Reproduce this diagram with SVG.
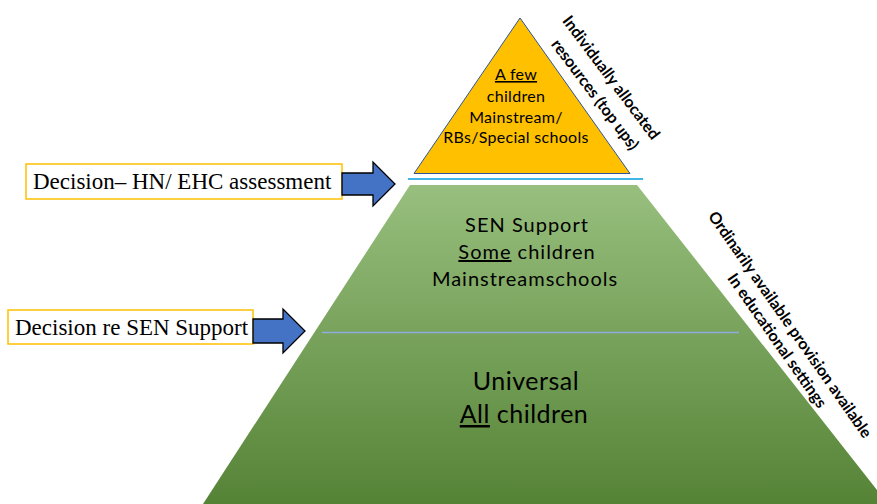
<svg xmlns="http://www.w3.org/2000/svg" width="877" height="504" viewBox="0 0 877 504">
<defs>
<linearGradient id="g" x1="0" y1="185" x2="0" y2="504" gradientUnits="userSpaceOnUse">
<stop offset="0" stop-color="#98bf7e"/>
<stop offset="1" stop-color="#558336"/>
</linearGradient>
<style>
.box{fill:#fff;stroke:#ffc000;stroke-width:1.5}
.arr{fill:#4472c4;stroke:#000;stroke-width:1.3}
.tm{font-family:"Liberation Serif",serif;font-size:23px;fill:#000}
.cb{font-family:Lato,"Liberation Sans",sans-serif;fill:#000;text-anchor:middle}
.tri{font-size:16px;letter-spacing:0.3px}
.mid{font-size:20px;letter-spacing:1px}
.big{font-size:25px;letter-spacing:0.5px}
.rot{font-family:Lato,"Liberation Sans",sans-serif;font-weight:bold;font-size:16px;fill:#000;text-anchor:middle;dominant-baseline:central}
</style>
</defs>
<rect width="877" height="504" fill="#fff"/>
<g id="base">
<polygon points="410,185 637,185 888,504 203,504" fill="url(#g)"/>
<line x1="322" y1="332.5" x2="739" y2="332.5" stroke="#8faadc" stroke-width="1.5"/>
<text class="cb mid" x="527" y="232">SEN Support</text>
<text class="cb mid" x="527" y="259"><tspan text-decoration="underline">Some</tspan> children</text>
<text class="cb mid" x="525" y="286">Mainstreamschools</text>
<text class="cb big" x="526" y="390">Universal</text>
<text class="cb big" x="524" y="423"><tspan text-decoration="underline">All</tspan> children</text>
</g>
<g id="top">
<line x1="408" y1="179" x2="643" y2="179" stroke="#41b6e6" stroke-width="2"/>
<polygon points="520,18 414,173.5 630,173.5" fill="#ffc000" stroke="#2f5597" stroke-width="1"/>
<text class="cb tri" x="516" y="80"><tspan text-decoration="underline">A few</tspan></text>
<text class="cb tri" x="516" y="102">children</text>
<text class="cb tri" x="516" y="123">Mainstream/</text>
<text class="cb tri" x="516" y="143">RBs/Special schools</text>
</g>
<g id="label-top">
<text class="rot" transform="translate(612,77) rotate(53)">Individually allocated</text>
<text class="rot" transform="translate(596,94) rotate(53)">resources (top ups)</text>
</g>
<g id="label-base">
<text class="rot" transform="translate(791,324) rotate(55)" font-size="15.5">Ordinarily available provision available</text>
<text class="rot" transform="translate(778,340) rotate(55)">In educational settings</text>
</g>
<g id="decision1">
<rect class="box" x="26" y="164" width="316" height="35"/>
<text class="tm" x="33" y="189">Decision– HN/ EHC assessment</text>
</g>
<g id="decision2">
<rect class="box" x="8" y="310" width="245" height="34"/>
<text class="tm" x="15" y="335">Decision re SEN Support</text>
</g>
<g id="connectors">
<polygon class="arr" points="342,173 373,173 373,162 395,184 373,206 373,195 342,195"/>
<polygon class="arr" points="253,319 283,319 283,309 305,331 283,353 283,343 253,343"/>
</g>
</svg>
